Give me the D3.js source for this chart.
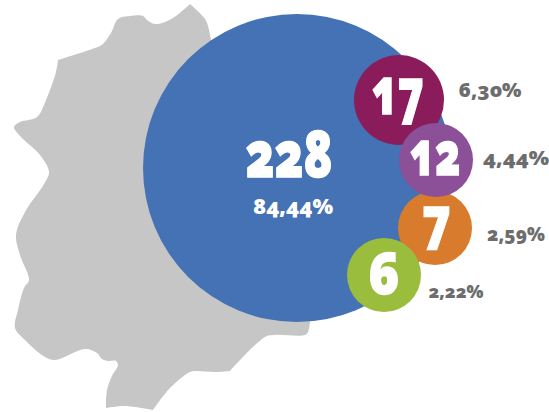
<!DOCTYPE html>
<html>
<head>
<meta charset="utf-8">
<script src="https://d3js.org/d3.v7.min.js"></script>
<style>
	html, body { margin: 0; background: #fff; }
	svg { display: block; }
	text { font-family: "Open Sans", sans-serif; font-feature-settings: "onum" 1; text-anchor: middle; }
</style>
</head>
<body>
<svg id="chart" width="549" height="412"></svg>
<script>
const counts = [228, 17, 12, 7, 6];
const shares = ["84,44%", "6,30%", "4,44%", "2,59%", "2,22%"];

// drawing setup, not data
const colors = ["#4472b4", "#8b1c5c", "#8b5097", "#d97b2c", "#9abd3e"];
const centers = [[297, 168], [399, 100], [436, 160], [435, 228], [384, 275]];
const drawOrder = [0, 1, 3, 4, 2];

const countStyle = [
	{ x: 289, y: 177, size: 63, width: 87 },
	{ x: 398, y: 114, size: 64, width: 53 },
	{ x: 435, y: 175, size: 61, width: 51 },
	{ x: 437, y: 240, size: 61, width: 29 },
	{ x: 384, y: 294, size: 57, width: 31 }
];
const shareStyle = [
	{ x: 293, y: 214, size: 21, width: 80 },
	{ x: 490, y: 97, size: 20, width: 63 },
	{ x: 516, y: 165, size: 20, width: 66 },
	{ x: 516, y: 241, size: 19, width: 58 },
	{ x: 456, y: 298, size: 18, width: 55 }
];

// outline of the grey region behind the circles, a repeated point makes a sharp corner
const outline = [
	[190, 4], [190, 4], [176, 16], [165, 22], [155, 24], [147, 20], [143, 16], [130, 16], [118, 19], [111, 33], [103, 44], [100, 46],
	[58, 60], [58, 60], [56, 72], [46, 100], [37, 117], [20, 122], [14, 127], [20, 136], [40, 155], [49, 172],
	[44, 184], [25, 212], [16, 235], [20, 255], [29, 280], [24, 288], [18, 310], [15, 328], [25, 340],
	[45, 357], [55, 360], [85, 349], [97, 353], [102, 359], [108, 361], [116, 361], [118, 365], [112, 376], [107, 390],
	[106, 408], [106, 408], [125, 406], [153, 410], [153, 410], [170, 388], [190, 372], [196, 371], [215, 372],
	[230, 371], [230, 371], [265, 337], [275, 335], [305, 335], [308, 332], [310, 322], [310, 322],
	[330, 200], [300, 80], [211, 40], [211, 40], [208, 26], [205, 19]
];

const svg = d3.select("#chart");

const radius = d3.scaleLinear().domain([6, 12, 17, 228]).range([37, 37, 45, 154]);

svg.append("path")
	.attr("d", d3.line().curve(d3.curveCatmullRomClosed.alpha(0.5))(outline))
	.attr("fill", "#c6c6c6");

svg.selectAll(".bubble")
	.data(drawOrder)
	.join("circle")
	.attr("class", "bubble")
	.attr("cx", i => centers[i][0])
	.attr("cy", i => centers[i][1])
	.attr("r", i => radius(counts[i]))
	.attr("fill", i => colors[i]);

// the stroke thickens the digits, the font's heaviest weight is still too light
svg.selectAll(".count")
	.data(counts)
	.join("text")
	.attr("class", "count")
	.attr("x", (d, i) => countStyle[i].x)
	.attr("y", (d, i) => countStyle[i].y)
	.attr("font-size", (d, i) => countStyle[i].size)
	.attr("textLength", (d, i) => countStyle[i].width)
	.attr("lengthAdjust", "spacingAndGlyphs")
	.attr("font-weight", 800)
	.attr("fill", "#fff")
	.attr("stroke", "#fff")
	.attr("stroke-width", 1.4)
	.text(d => d);

svg.selectAll(".share")
	.data(shares)
	.join("text")
	.attr("class", "share")
	.attr("x", (d, i) => shareStyle[i].x)
	.attr("y", (d, i) => shareStyle[i].y)
	.attr("font-size", (d, i) => shareStyle[i].size)
	.attr("textLength", (d, i) => shareStyle[i].width)
	.attr("lengthAdjust", "spacingAndGlyphs")
	.attr("font-weight", 800)
	.attr("fill", (d, i) => i === 0 ? "#fff" : "#6d6d6d")
	.text(d => d);
</script>
</body>
</html>
